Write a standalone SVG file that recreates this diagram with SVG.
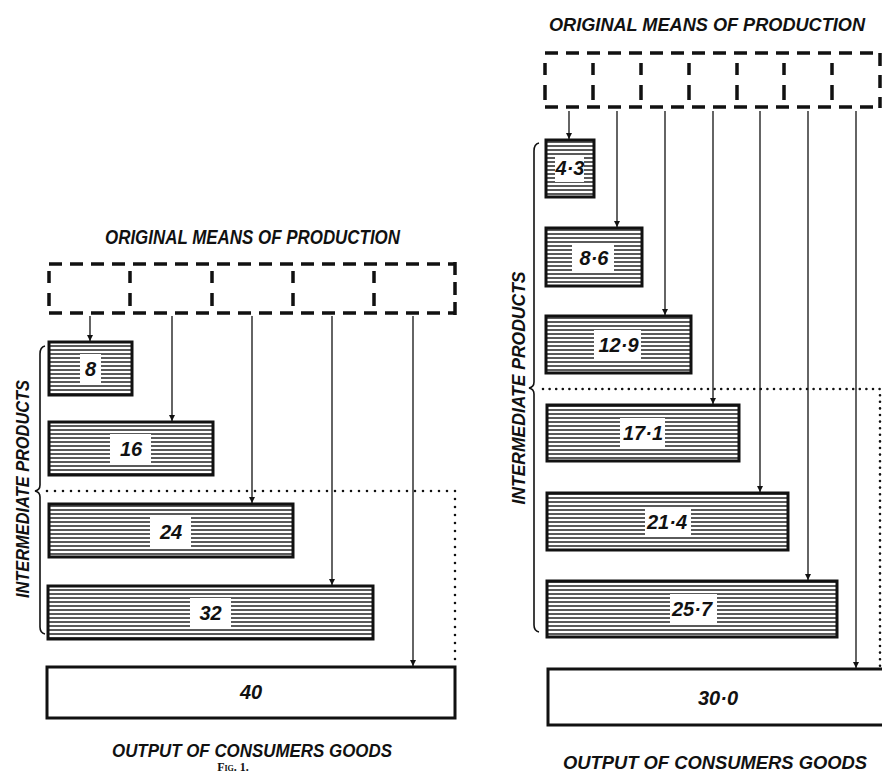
<svg xmlns="http://www.w3.org/2000/svg" width="882" height="774" viewBox="0 0 882 774">
<style>
.t{font-family:"Liberation Sans","DejaVu Sans",sans-serif;font-style:italic;font-weight:bold;fill:#111}
.num{font-family:"Liberation Sans","DejaVu Sans",sans-serif;font-style:italic;font-weight:bold;font-size:20px;fill:#111;text-anchor:middle}
.bar{stroke:#111;stroke-width:3;fill:url(#hatch)}
.out{stroke:#111;stroke-width:3;fill:#fff}
.lbl{fill:#fff}
.dash{stroke:#111;stroke-width:3.5;fill:none;stroke-dasharray:13 8}
.vd{stroke:#111;stroke-width:3.5;fill:none}
.arr{stroke:#111;stroke-width:1.3;fill:none;marker-end:url(#ah)}
.dot{stroke:#111;stroke-width:2.6;fill:none;stroke-linecap:round}
.brace{stroke:#111;stroke-width:1.6;fill:none}
</style>
<defs>
<pattern id="hatch" patternUnits="userSpaceOnUse" width="10" height="4">
<rect width="10" height="4" fill="#fff"/>
<line x1="0" y1="2" x2="10" y2="2" stroke="#222" stroke-width="1.5"/>
</pattern>
<marker id="ah" viewBox="0 0 10 10" refX="10" refY="5" markerWidth="6" markerHeight="6" markerUnits="userSpaceOnUse" orient="auto">
<path d="M0,0 L10,5 L0,10 z" fill="#111"/>
</marker>
</defs>
<rect width="882" height="774" fill="#fff"/>

<!-- LEFT FIGURE -->
<g id="left-title"><text class="t" x="252.5" y="244" font-size="20" text-anchor="middle" textLength="295" lengthAdjust="spacingAndGlyphs">ORIGINAL MEANS OF PRODUCTION</text></g>
<g id="left-means">
<path class="dash" d="M49,264 H455 M49,313 H455"/>
<path class="vd" d="M49,271 v12 M49,293 v13 M130,271 v12 M130,293 v13 M212,271 v12 M212,293 v13 M293,271 v12 M293,293 v13 M374,271 v12 M374,293 v13 M455,262 v13 M455,282 v13 M455,302 v13"/>
</g>
<g id="left-bar-8"><rect class="bar" x="49" y="342" width="83" height="53"/><rect class="lbl" x="80" y="354" width="21" height="30"/><text class="num" x="90.5" y="376">8</text></g>
<g id="left-bar-16"><rect class="bar" x="49" y="422" width="164" height="53"/><rect class="lbl" x="110" y="434" width="41" height="30"/><text class="num" x="131" y="456">16</text></g>
<g id="left-bar-24"><rect class="bar" x="49" y="504" width="244" height="53"/><rect class="lbl" x="150" y="517" width="41" height="30"/><text class="num" x="171" y="539">24</text></g>
<g id="left-bar-32"><rect class="bar" x="48" y="586" width="325" height="53"/><rect class="lbl" x="190" y="598" width="41" height="30"/><text class="num" x="210.5" y="620">32</text></g>
<g id="left-output-40"><rect class="out" x="47" y="667" width="408" height="51"/><text class="num" x="251" y="699">40</text></g>
<g id="left-brace">
<path class="brace" d="M45,346 Q40,347 40,354 L40,485 Q40,490 35,491 Q40,492 40,497 L40,627 Q40,633 45,634"/>
<text class="t" font-size="19" text-anchor="middle" transform="translate(29,489) rotate(-90)" textLength="218" lengthAdjust="spacingAndGlyphs">INTERMEDIATE PRODUCTS</text>
</g>
<g id="left-connectors">
<path class="arr" d="M90,316 V341"/>
<path class="arr" d="M172,316 V421"/>
<path class="arr" d="M252,316 V503"/>
<path class="arr" d="M332,316 V585"/>
<path class="arr" d="M413,316 V666"/>
<path class="dot" stroke-dasharray="0 8" d="M47,491 H455 V662"/>
</g>
<g id="left-caption">
<text class="t" x="252" y="757" font-size="19" text-anchor="middle" textLength="280" lengthAdjust="spacingAndGlyphs">OUTPUT OF CONSUMERS GOODS</text>
<text x="233" y="770.5" font-family="Liberation Serif, serif" font-size="12" font-weight="bold" text-anchor="middle" style="font-variant:small-caps" fill="#111">Fig. 1.</text>
</g>

<!-- RIGHT FIGURE -->
<g id="right-title"><text class="t" x="707" y="31" font-size="19" text-anchor="middle" textLength="316" lengthAdjust="spacingAndGlyphs">ORIGINAL MEANS OF PRODUCTION</text></g>
<g id="right-means">
<path class="dash" d="M545,53 H880 M545,107 H880"/>
<path class="vd" d="M545,63 v12 M545,85 v15 M593,63 v12 M593,85 v15 M641,63 v12 M641,85 v15 M689,63 v12 M689,85 v15 M737,63 v12 M737,85 v15 M784,63 v12 M784,85 v15 M832,63 v12 M832,85 v15 M880,53 v13 M880,75 v13 M880,97 v11"/>
</g>
<g id="right-bar-4-3"><rect class="bar" x="546" y="140" width="48" height="57"/><rect class="lbl" x="555" y="155" width="29" height="27"/><text class="num" x="570" y="175">4·3</text></g>
<g id="right-bar-8-6"><rect class="bar" x="546" y="228" width="96" height="58"/><rect class="lbl" x="572" y="243" width="42" height="29"/><text class="num" x="594" y="265">8·6</text></g>
<g id="right-bar-12-9"><rect class="bar" x="546" y="316" width="145" height="57"/><rect class="lbl" x="594" y="330" width="47" height="29"/><text class="num" x="618.5" y="352">12·9</text></g>
<g id="right-bar-17-1"><rect class="bar" x="547" y="405" width="192" height="56"/><rect class="lbl" x="620" y="418" width="45" height="29"/><text class="num" x="643" y="440">17·1</text></g>
<g id="right-bar-21-4"><rect class="bar" x="547" y="493" width="241" height="57"/><rect class="lbl" x="645" y="507" width="46" height="29"/><text class="num" x="667" y="529">21·4</text></g>
<g id="right-bar-25-7"><rect class="bar" x="547" y="581" width="290" height="56"/><rect class="lbl" x="670" y="594" width="47" height="29"/><text class="num" x="692" y="616">25·7</text></g>
<g id="right-output-30"><rect class="out" x="548" y="669" width="340" height="56"/><text class="num" x="718" y="705">30·0</text></g>
<g id="right-brace">
<path class="brace" d="M539,143 Q534,144 534,151 L534,382 Q534,387 529,388 Q534,389 534,394 L534,625 Q534,631 539,632"/>
<text class="t" font-size="19" text-anchor="middle" transform="translate(525,388) rotate(-90)" textLength="233" lengthAdjust="spacingAndGlyphs">INTERMEDIATE PRODUCTS</text>
</g>
<g id="right-connectors">
<path class="arr" d="M569,111 V139"/>
<path class="arr" d="M617,111 V227"/>
<path class="arr" d="M665,111 V315"/>
<path class="arr" d="M713,111 V404"/>
<path class="arr" d="M760,111 V492"/>
<path class="arr" d="M808,111 V580"/>
<path class="arr" d="M856,111 V668"/>
<path class="dot" stroke-width="2.2" stroke-dasharray="0 6.6" d="M543,389 H880 V668"/>
</g>
<g id="right-caption">
<text class="t" x="715" y="769" font-size="19" text-anchor="middle" textLength="304" lengthAdjust="spacingAndGlyphs">OUTPUT OF CONSUMERS GOODS</text>
</g>
</svg>
